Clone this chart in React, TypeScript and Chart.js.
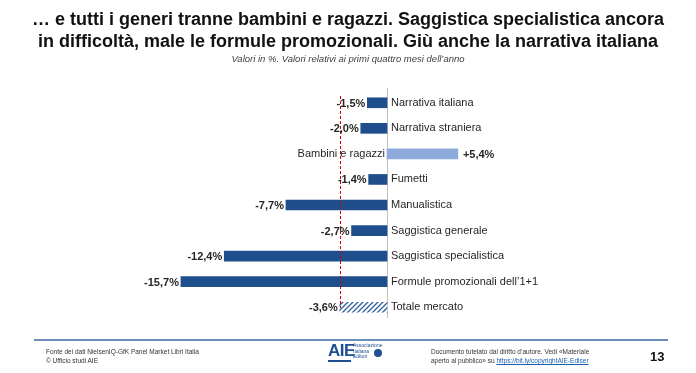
import React, { useEffect, useRef } from "react";
import { Chart, registerables } from "chart.js";

Chart.register(...registerables);

const categories = [
  "Narrativa italiana",
  "Narrativa straniera",
  "Bambini e ragazzi",
  "Fumetti",
  "Manualistica",
  "Saggistica generale",
  "Saggistica specialistica",
  "Formule promozionali dell\u20191+1",
  "Totale mercato",
];
const values = [-1.5, -2.0, 5.4, -1.4, -7.7, -2.7, -12.4, -15.7, -3.6];
const totalIndex = 8;
const marketAverage = -3.6;
const axisMin = -16;
const axisMax = 16;

const DARK = "#1f4e8c";
const LIGHT = "#8eaadb";
const FONT = "'Liberation Sans', Arial, sans-serif";

function fmt(v: number) {
  const s = Math.abs(v).toFixed(1).replace(".", ",");
  return (v > 0 ? "+" : "-") + s + "%";
}

function makeHatch(): CanvasPattern | string {
  const c = document.createElement("canvas");
  c.width = 5;
  c.height = 5;
  const g = c.getContext("2d");
  if (!g) return DARK;
  g.fillStyle = "#ffffff";
  g.fillRect(0, 0, 5, 5);
  g.strokeStyle = "#2f5f9e";
  g.lineWidth = 1.3;
  g.beginPath();
  g.moveTo(-1, 6);
  g.lineTo(6, -1);
  g.moveTo(-1, 1);
  g.lineTo(1, -1);
  g.moveTo(4, 6);
  g.lineTo(6, 4);
  g.stroke();
  const p = g.createPattern(c, "repeat");
  return p || DARK;
}

const labelPlugin = {
  id: "labels",
  beforeDatasetsDraw(chart: any) {
    const ctx = chart.ctx;
    const xs = chart.scales.x;
    const x0 = xs.getPixelForValue(0);
    ctx.save();
    ctx.strokeStyle = "#bfbfbf";
    ctx.lineWidth = 1;
    ctx.beginPath();
    ctx.moveTo(Math.round(x0) + 0.5, 88);
    ctx.lineTo(Math.round(x0) + 0.5, 318);
    ctx.stroke();
    ctx.restore();
  },
  afterDatasetsDraw(chart: any) {
    const ctx = chart.ctx;
    const xs = chart.scales.x;
    const x0 = xs.getPixelForValue(0);
    const meta = chart.getDatasetMeta(0);
    ctx.save();
    const xr = Math.round(xs.getPixelForValue(marketAverage)) + 0.5;
    ctx.strokeStyle = "#d00000";
    ctx.lineWidth = 1;
    ctx.setLineDash([3, 2]);
    ctx.beginPath();
    ctx.moveTo(xr, 96);
    ctx.lineTo(xr, 308);
    ctx.stroke();
    ctx.setLineDash([]);
    ctx.textBaseline = "middle";
    meta.data.forEach((el: any, i: number) => {
      const v = values[i];
      const y = el.y;
      ctx.fillStyle = "#262626";
      ctx.font = "11px " + FONT;
      if (v < 0) {
        ctx.textAlign = "left";
        ctx.fillText(categories[i], x0 + 4, y);
        ctx.font = "bold 11px " + FONT;
        ctx.textAlign = "right";
        ctx.fillText(fmt(v), el.x - 2, y + 1);
      } else {
        ctx.textAlign = "right";
        ctx.fillText(categories[i], x0 - 2, y);
        ctx.font = "bold 11px " + FONT;
        ctx.textAlign = "left";
        ctx.fillText(fmt(v), el.x + 5, y + 1);
      }
    });
    ctx.restore();
  },
};

export default function App() {
  const ref = useRef<HTMLCanvasElement | null>(null);
  useEffect(() => {
    document.body.style.margin = "0";
    if (!ref.current) return;
    const hatch = makeHatch();
    const colors = values.map((v, i) =>
      i === totalIndex ? hatch : v > 0 ? LIGHT : DARK
    );
    const chart = new Chart(ref.current, {
      type: "bar",
      data: {
        labels: categories,
        datasets: [
          {
            data: values,
            backgroundColor: colors as any,
            borderWidth: 0,
            barThickness: 10,
          },
        ],
      },
      options: {
        indexAxis: "y",
        responsive: false,
        animation: false,
        layout: { padding: { left: 177, right: 99, top: 90, bottom: 53 } },
        plugins: {
          legend: { display: false },
          tooltip: { enabled: false },
          title: { display: false },
        },
        scales: {
          x: { display: false, min: axisMin, max: axisMax },
          y: { display: false },
        },
      },
      plugins: [labelPlugin],
    });
    return () => chart.destroy();
  }, []);

  const abs: React.CSSProperties = { position: "absolute" };
  return (
    <div
      style={{
        position: "fixed",
        left: 0,
        top: 0,
        width: 696,
        height: 373,
        background: "#fff",
        fontFamily: FONT,
        color: "#1a1a1a",
        overflow: "hidden",
      }}
    >
      <canvas ref={ref} width={696} height={373} style={{ ...abs, left: 0, top: 0 }} />
      <div
        style={{
          ...abs,
          left: 0,
          top: 8,
          width: 696,
          textAlign: "center",
          fontWeight: "bold",
          fontSize: 18,
          lineHeight: "22px",
          color: "#111",
          whiteSpace: "nowrap",
        }}
      >
        … e tutti i generi tranne bambini e ragazzi. Saggistica specialistica ancora
        <br />
        in difficoltà, male le formule promozionali. Giù anche la narrativa italiana
      </div>
      <div
        style={{
          ...abs,
          left: 0,
          top: 53,
          width: 696,
          textAlign: "center",
          fontStyle: "italic",
          fontSize: 9.5,
          color: "#404040",
        }}
      >
        Valori in %. Valori relativi ai primi quattro mesi dell’anno
      </div>
      <div style={{ ...abs, left: 34, top: 339, width: 634, height: 2, background: "#6b8fb8" }} />
      <div style={{ ...abs, left: 46, top: 347, fontSize: 6.5, lineHeight: "9px", color: "#333" }}>
        Fonte dei dati NielsenIQ-GfK Panel Market Libri Italia
        <br />© Ufficio studi AIE
      </div>
      <div style={{ ...abs, left: 328, top: 341, fontSize: 17, fontWeight: "bold", color: "#1d4f91", letterSpacing: -0.5 }}>
        AIE
      </div>
      <div style={{ ...abs, left: 328, top: 360, width: 23, height: 2, background: "#1d4f91" }} />
      <div style={{ ...abs, left: 353, top: 343, fontSize: 5, lineHeight: "5.5px", color: "#1d4f91" }}>
        Associazione
        <br />
        Italiana
        <br />
        Editori
      </div>
      <div style={{ ...abs, left: 374, top: 349, width: 8, height: 8, borderRadius: 4, background: "#1d4f91" }} />
      <div style={{ ...abs, left: 431, top: 347, fontSize: 6.5, lineHeight: "9px", color: "#333" }}>
        Documento tutelato dal diritto d’autore. Vedi «Materiale
        <br />
        aperto al pubblico» su{" "}
        <span style={{ color: "#1a5fb4", textDecoration: "underline" }}>https://bit.ly/copyrightAIE-Ediser</span>
      </div>
      <div style={{ ...abs, left: 650, top: 349, fontSize: 13, fontWeight: "bold", color: "#111" }}>13</div>
    </div>
  );
}
